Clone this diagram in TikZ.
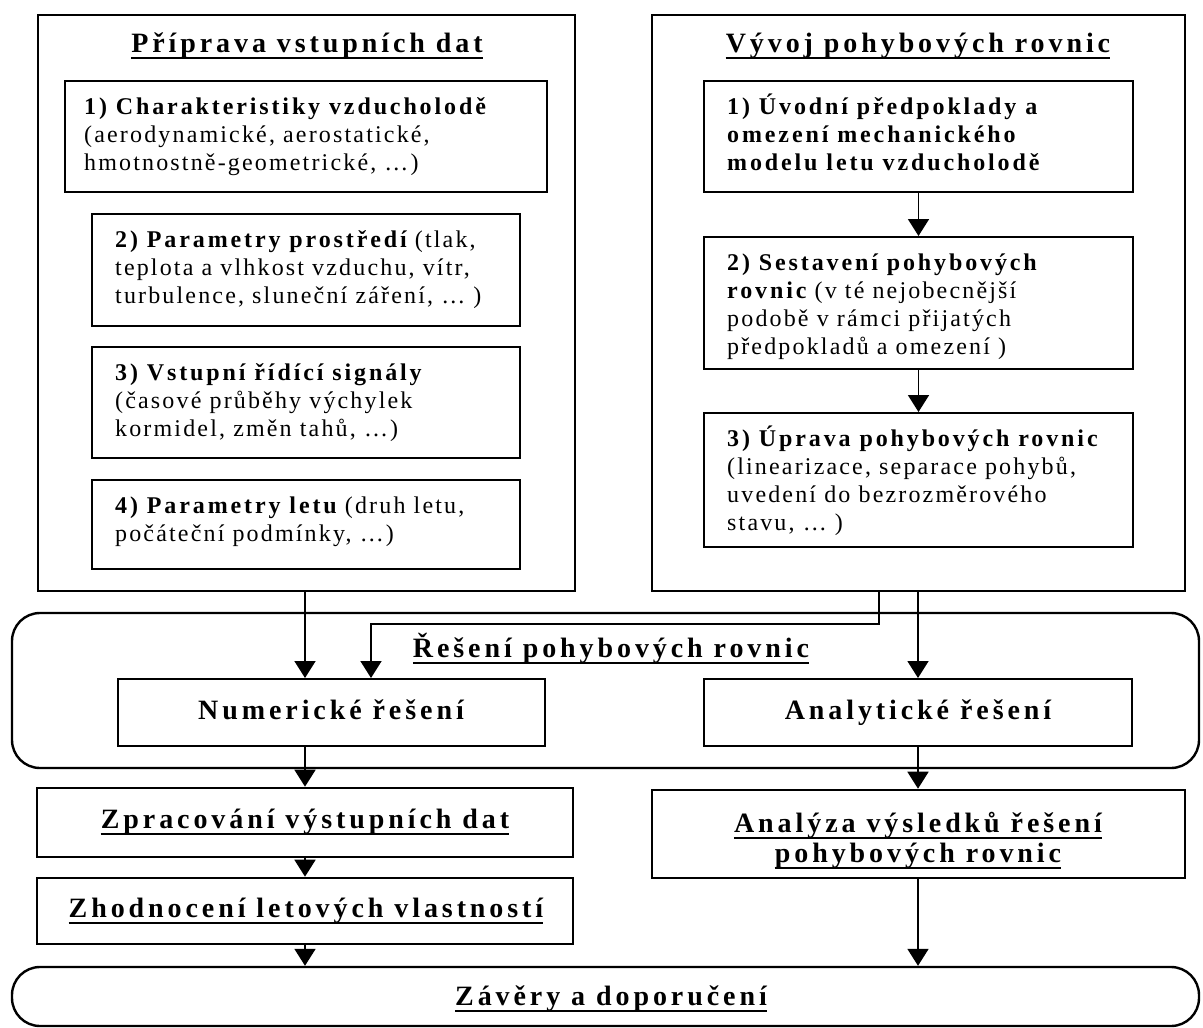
\documentclass[tikz,border=0pt]{standalone}
\usepackage{fontspec}
\setmainfont{Liberation Serif}
\newfontfamily\rmls[LetterSpace=9]{Liberation Serif}
\newfontfamily\bdls[LetterSpace=12]{Liberation Serif}
\newfontfamily\hdls[LetterSpace=14]{Liberation Serif}
\usetikzlibrary{arrows.meta}
\newcommand\fst{\rule{0pt}{23pt}}
\tikzset{
  outerbox/.style={draw, line width=2.6pt, inner sep=0pt, rectangle},
  innerbox/.style={draw, line width=2pt, inner sep=0pt, rectangle},
  roundbox/.style={draw, line width=2.4pt, inner sep=0pt, rectangle, rounded corners=28pt},
  hd/.style={inner sep=0pt, anchor=base, font=\hdls\bfseries\fontsize{28}{32}\selectfont},
  bd/.style={inner sep=0pt, anchor=north west, align=left, font=\rmls\fontsize{24}{28}\selectfont},
  ul/.style={line width=2.8pt},
  arr/.style={line width=1.8pt, -{Triangle[length=17pt,width=21pt]}}
}
\newcommand\bb[1]{{\bdls\bfseries #1}}
\begin{document}
\begin{tikzpicture}[x=1pt,y=-1pt]
\useasboundingbox (0,0) rectangle (1203,1028);
% outer boxes
\node[outerbox, minimum width=537pt, minimum height=576pt] (LO) at (306.5,303) {};
\node[outerbox, minimum width=533pt, minimum height=576pt] (RO) at (918.5,303) {};
% titles
\node[hd] (TL) at (307,52) {Příprava vstupních dat};
\draw[ul] ([yshift=-6pt]TL.base west) -- ([yshift=-6pt]TL.base east);
\node[hd] (TR) at (918,52) {Vývoj pohybových rovnic};
\draw[ul] ([yshift=-6pt]TR.base west) -- ([yshift=-6pt]TR.base east);
% left inner boxes
\node[innerbox, minimum width=482pt, minimum height=111pt] (L1) at (306,136.5) {};
\node[innerbox, minimum width=428pt, minimum height=112pt] (L2) at (306,270) {};
\node[innerbox, minimum width=428pt, minimum height=111pt] (L3) at (306,402.5) {};
\node[innerbox, minimum width=428pt, minimum height=89pt] (L4) at (306,524.5) {};
\node[bd] (L1t) at (84,91) {\fst\bb{1) Charakteristiky vzducholodě}\\(aerodynamické, aerostatické,\\hmotnostně-geometrické, …)};
\node[bd] (L2t) at (115,224) {\fst\bb{2) Parametry prostředí} (tlak,\\teplota a vlhkost vzduchu, vítr,\\turbulence, sluneční záření, … )};
\node[bd] (L3t) at (115,357) {\fst\bb{3) Vstupní řídící signály}\\(časové průběhy výchylek\\kormidel, změn tahů, …)};
\node[bd] (L4t) at (115,490) {\fst\bb{4) Parametry letu} (druh letu,\\počáteční podmínky, …)};
% right inner boxes
\node[innerbox, minimum width=429pt, minimum height=111pt] (R1) at (918.5,136.5) {};
\node[innerbox, minimum width=429pt, minimum height=132pt] (R2) at (918.5,303) {};
\node[innerbox, minimum width=429pt, minimum height=134pt] (R3) at (918.5,480) {};
\node[bd] (R1t) at (727,91) {\fst\bb{1) Úvodní předpoklady a}\\\bb{omezení mechanického}\\\bb{modelu letu vzducholodě}};
\node[bd] (R2t) at (727,247) {\fst\bb{2) Sestavení pohybových}\\\bb{rovnic} (v té nejobecnější\\podobě v rámci přijatých\\předpokladů a omezení )};
\node[bd] (R3t) at (727,423) {\fst\bb{3) Úprava pohybových rovnic}\\(linearizace, separace pohybů,\\uvedení do bezrozměrového\\stavu, … )};
\draw[arr] (R1.south) -- (R2.north);
\draw[arr] (R2.south) -- (R3.north);
% solution block
\node[roundbox, minimum width=1187pt, minimum height=155pt] (RS) at (605.5,690.5) {};
\node[hd] (TS) at (611,657) {Řešení pohybových rovnic};
\draw[ul] ([yshift=-6pt]TS.base west) -- ([yshift=-6pt]TS.base east);
\node[innerbox, minimum width=427pt, minimum height=67pt] (NU) at (331.5,712.5) {};
\node[innerbox, minimum width=428pt, minimum height=67pt] (AN) at (918,712.5) {};
\node[hd] (NUt) at (331,719) {Numerické řešení};
\node[hd] (ANt) at (918,719) {Analytické řešení};
% lower boxes
\node[outerbox, minimum width=536pt, minimum height=69pt] (ZP) at (305,822.5) {};
\node[outerbox, minimum width=536pt, minimum height=66pt] (ZH) at (305,911) {};
\node[outerbox, minimum width=533pt, minimum height=88pt] (AV) at (918.5,834) {};
\node[hd] (ZPt) at (305,828) {Zpracování výstupních dat};
\draw[ul] ([yshift=-6pt]ZPt.base west) -- ([yshift=-6pt]ZPt.base east);
\node[hd] (ZHt) at (306,917) {Zhodnocení letových vlastností};
\draw[ul] ([yshift=-6pt]ZHt.base west) -- ([yshift=-6pt]ZHt.base east);
\node[hd] (AVt1) at (918,832) {Analýza výsledků řešení};
\draw[ul] ([yshift=-6pt]AVt1.base west) -- ([yshift=-6pt]AVt1.base east);
\node[hd] (AVt2) at (918,862) {pohybových rovnic};
\draw[ul] ([yshift=-6pt]AVt2.base west) -- ([yshift=-6pt]AVt2.base east);
\node[roundbox, minimum width=1187pt, minimum height=59pt] (ZD) at (605.5,996.5) {};
\node[hd] (ZDt) at (611,1005) {Závěry a doporučení};
\draw[ul] ([yshift=-6pt]ZDt.base west) -- ([yshift=-6pt]ZDt.base east);
% connector columns
\coordinate (xl) at (305,0);
\coordinate (xn) at (371,0);
\coordinate (xm) at (879,0);
\coordinate (xr) at (918,0);
\draw[arr] (LO.south -| xl) -- (NU.north -| xl);
\draw[arr] (RO.south -| xm) -- ++(0,32) -| (NU.north -| xn);
\draw[arr] (RO.south -| xr) -- (AN.north -| xr);
\draw[arr] (NU.south -| xl) -- (ZP.north -| xl);
\draw[arr] (AN.south -| xr) -- (AV.north -| xr);
\draw[arr] (ZP.south -| xl) -- (ZH.north -| xl);
\draw[arr] (ZH.south -| xl) -- (ZD.north -| xl);
\draw[arr] (AV.south -| xr) -- (ZD.north -| xr);
\end{tikzpicture}
\end{document}
